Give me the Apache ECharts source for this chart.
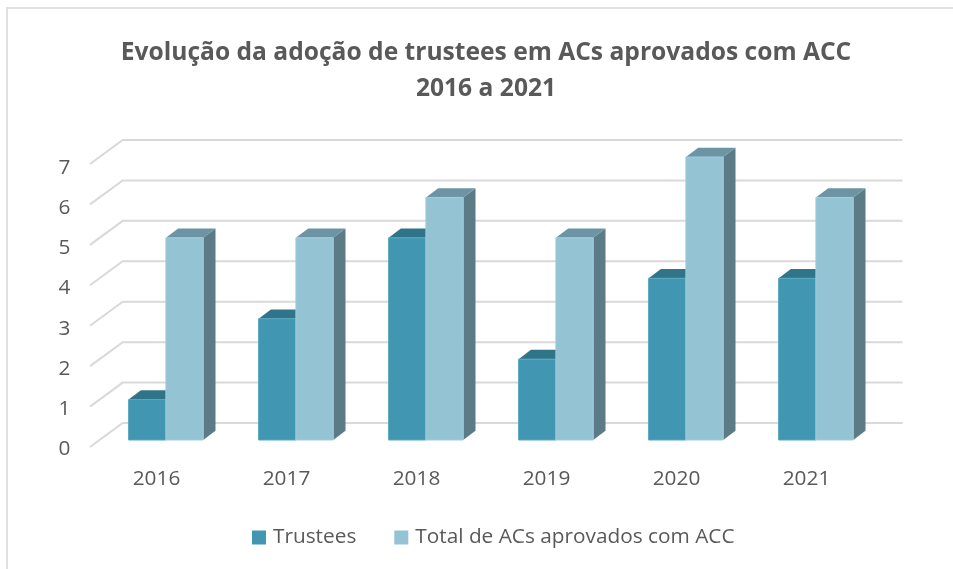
<!DOCTYPE html>
<html>
<head>
<meta charset="utf-8">
<style>
html, body { margin: 0; padding: 0; background: #fff; }
#container { width: 953px; height: 569px; }
</style>
<script src="https://cdn.jsdelivr.net/npm/echarts@6/dist/echarts.min.js"></script>
</head>
<body>
<div id="container"></div>
<script>
var categories = ['2016', '2017', '2018', '2019', '2020', '2021'];
var trustees = [1, 3, 5, 2, 4, 4];
var totalAcs = [5, 5, 6, 5, 7, 6];
var yTicks = [0, 1, 2, 3, 4, 5, 6, 7];

var fontName = '"Open Sans", sans-serif';
var barWidth = 37.3;
// pseudo 3D offsets, front plane -> bars -> back wall
var barShift = [9.4, -7];
var barDepth = [12.3, -9.3];
var wallDepth = [32.7, -24];

function pairData(values) {
	var arr = [];
	for (var i = 0; i < values.length; ++i)
		arr[i] = [i, values[i]];
	return arr;
}

function barRenderer(side, front, top, dark, edge) {
	return function(params, api) {
		var base = api.coord([api.value(0), 0]);
		var head = api.coord([api.value(0), api.value(1)]);
		var x0 = base[0] + barShift[0] + (side < 0 ? -barWidth : 0);
		var x1 = x0 + barWidth;
		var y0 = base[1] + barShift[1];
		var y1 = head[1] + barShift[1];
		var dx = barDepth[0], dy = barDepth[1];
		return {
			type: 'group',
			children: [
				{ type: 'polygon', shape: { points: [[x1, y1], [x1 + dx, y1 + dy], [x1 + dx, y0 + dy], [x1, y0]] },
					style: { fill: dark } },
				{ type: 'polygon', shape: { points: [[x0, y1], [x0 + dx, y1 + dy], [x1 + dx, y1 + dy], [x1, y1]] },
					style: { fill: top } },
				{ type: 'rect', shape: { x: x0, y: y1, width: barWidth, height: y0 - y1 },
					style: { fill: front, stroke: edge, lineWidth: 1 } }
			]
		};
	};
}

var myChart = echarts.init(document.getElementById('container'));
var option = {
	backgroundColor: '#fff',
	animation: false,
	title: {
		text: 'Evolução da adoção de trustees em ACs aprovados com ACC\n2016 a 2021',
		left: 481,
		top: 30,
		textAlign: 'center',
		textStyle: {
			fontFamily: fontName,
			fontSize: 24.6,
			fontWeight: 'bold',
			color: '#595959',
			lineHeight: 36
		}
	},
	legend: {
		data: ['Trustees', 'Total de ACs aprovados com ACC'],
		left: 247,
		top: 522,
		icon: 'rect',
		itemWidth: 14,
		itemHeight: 14,
		itemGap: 38,
		textStyle: { fontFamily: fontName, fontSize: 20.8, color: '#595959', padding: [0, 0, 0, 2] }
	},
	// second grid only carries the value labels, they sit a little lower than the marks
	grid: [
		{ left: 91.5, width: 780, top: 164, height: 283 },
		{ left: 91.5, width: 780, top: 168, height: 281 }
	],
	xAxis: [
		{
			type: 'category',
			data: categories,
			axisLine: { show: false },
			axisTick: { show: false },
			axisLabel: { fontFamily: fontName, fontSize: 20.8, color: '#595959', margin: 22 }
		},
		{ type: 'category', gridIndex: 1, data: categories, show: false }
	],
	yAxis: [
		{
			type: 'value',
			min: 0,
			max: 7,
			interval: 1,
			axisLine: { show: false },
			axisTick: { show: false },
			splitLine: { show: false },
			axisLabel: { show: false }
		},
		{
			type: 'value',
			gridIndex: 1,
			min: 0,
			max: 7,
			interval: 1,
			axisLine: { show: false },
			axisTick: { show: false },
			splitLine: { show: false },
			axisLabel: { fontFamily: fontName, fontSize: 20.8, color: '#595959', margin: 21 }
		}
	],
	series: [
		{
			name: 'grid',
			type: 'custom',
			silent: true,
			data: yTicks,
			encode: { y: 0 },
			renderItem: function(params, api) {
				var p = api.coord([0, api.value(0)]);
				var x = params.coordSys.x - 1.5;
				var bx = x + wallDepth[0], by = p[1] + wallDepth[1];
				return {
					type: 'polyline',
					shape: { points: [[x, p[1]], [bx, by], [902.5, by]] },
					style: { fill: null, stroke: '#d9d9d9', lineWidth: 2 }
				};
			}
		},
		{
			name: 'Trustees',
			type: 'custom',
			itemStyle: { color: '#4197b1' },
			data: pairData(trustees),
			encode: { x: 0, y: 1 },
			renderItem: barRenderer(-1, '#4197b1', '#2f7488', '#2f6a7c', '#58a7bf')
		},
		{
			name: 'Total de ACs aprovados com ACC',
			type: 'custom',
			itemStyle: { color: '#94c3d4' },
			data: pairData(totalAcs),
			encode: { x: 0, y: 1 },
			renderItem: barRenderer(1, '#94c3d4', '#6d94a4', '#5b7b87', '#a2cddc')
		}
	],
	graphic: [
		{ type: 'polyline', silent: true, shape: { points: [[7, 569], [7, 8], [953, 8]] },
			style: { fill: null, stroke: '#e0e0e0', lineWidth: 2 } }
	]
};
myChart.setOption(option);
</script>
</body>
</html>
